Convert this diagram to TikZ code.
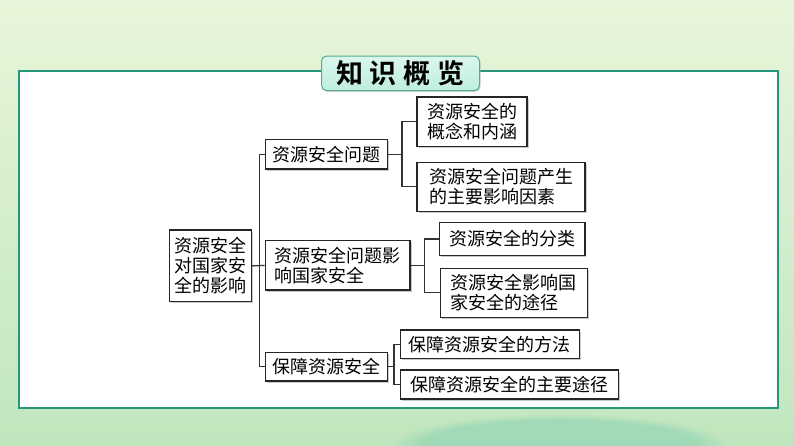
\documentclass[tikz,border=0pt]{standalone}
\usepackage{fontspec}
\setmainfont{Noto Sans CJK SC}
\newfontfamily\cjkb{Noto Sans CJK SC Bold}
\usetikzlibrary{shadows,fadings}
\definecolor{bgtop}{RGB}{232,245,218}
\definecolor{bgbot}{RGB}{192,230,190}
\definecolor{panelline}{RGB}{40,150,125}
\definecolor{titlefill}{RGB}{190,238,222}
\definecolor{spray}{RGB}{140,210,178}
\tikzset{
  bx/.style={draw=black!85, line width=1.3pt, fill=white, inner sep=0pt, align=center,
    font=\fontsize{18}{20}\selectfont,
    drop shadow={shadow xshift=1.5pt, shadow yshift=-1.5pt, fill=black!35, opacity=0.6}},
  ln/.style={draw=black!80, line width=1.3pt},
}
\begin{document}
\begin{tikzpicture}[x=1pt,y=-1pt]
\useasboundingbox (0,0) rectangle (794,446);
\shade[top color=bgtop, bottom color=bgbot] (0,0) rectangle (794,446);
\fill[spray, path fading=circle with fuzzy edge 20 percent, opacity=0.6] (560,446) ellipse (170 and 32);
% panel
\draw[panelline, line width=1.8pt, fill=white] (19,71) rectangle (778,408);
% title
\node[draw=panelline!80, line width=1pt, rounded corners=5pt,
      top color=titlefill!55, bottom color=titlefill, minimum width=158pt, minimum height=34.5pt,
      inner sep=0pt, font=\cjkb\fontsize{27}{30}\selectfont,
      drop shadow={shadow xshift=1pt, shadow yshift=-1.5pt, fill=black!30, opacity=0.5}]
  (title) at (400.5,73.3) {知\hspace{7pt}识\hspace{7pt}概\hspace{7pt}览};
% nodes
\node[bx, minimum width=82pt, minimum height=71.7pt] (root) at (210.6,265.9) {资源安全\\对国家安\\全的影响};
\node[bx, minimum width=122.5pt, minimum height=29.7pt] (A) at (326.5,154.2) {资源安全问题};
\node[bx, minimum width=144.7pt, minimum height=49.3pt, align=left] (B) at (337.7,265.4) {资源安全问题影\\响国家安全};
\node[bx, minimum width=122.5pt, minimum height=28.7pt] (C) at (326.5,366.7) {保障资源安全};
\node[bx, minimum width=110pt, minimum height=49.3pt] (A1) at (472,121.7) {资源安全的\\概念和内涵};
\node[bx, minimum width=168pt, minimum height=49pt, align=left] (A2) at (501,186.8) {资源安全问题产生\\的主要影响因素};
\node[bx, minimum width=145.3pt, minimum height=33.4pt] (B1) at (512.2,239) {资源安全的分类};
\node[bx, minimum width=146.8pt, minimum height=49pt, align=left] (B2) at (513.9,292.8) {资源安全影响国\\家安全的途径};
\node[bx, minimum width=178.7pt, minimum height=28.3pt] (C1) at (489.9,344.2) {保障资源安全的方法};
\node[bx, minimum width=217.7pt, minimum height=29pt] (C2) at (509.4,384.5) {保障资源安全的主要途径};
% connectors
\coordinate (t0) at (259.2,0);
\coordinate (ta) at (402,0);
\coordinate (tb) at (424.3,0);
\coordinate (tc) at (394,0);
\draw[ln] (root.east) -- (B.west);
\draw[ln] (A.west) -- (A.west -| t0) -- (C.west -| t0) -- (C.west);
\draw[ln] (A.east) -- (A.east -| ta);
\draw[ln] (A1.west) -- (A1.west -| ta) -- (A2.west -| ta) -- (A2.west);
\draw[ln] (B.east) -- (B.east -| tb);
\draw[ln] (B1.west) -- (B1.west -| tb) -- (B2.west -| tb) -- (B2.west);
\draw[ln] (C.east) -- (C.east -| tc);
\draw[ln] (C1.west) -- (C1.west -| tc) -- (C2.west -| tc) -- (C2.west);
\end{tikzpicture}
\end{document}
